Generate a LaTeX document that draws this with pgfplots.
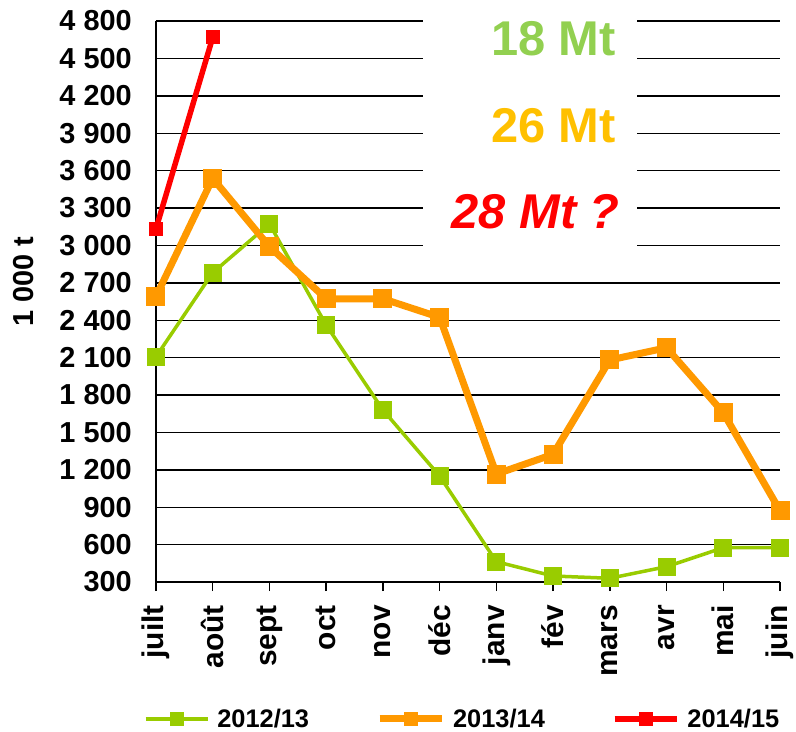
\documentclass[border=0pt]{standalone}
\usepackage{fontspec}
\setmainfont{Liberation Sans}
\usepackage{pgfplots}
\pgfplotsset{compat=1.18}
\definecolor{cgreen}{HTML}{99CC00}
\definecolor{corange}{HTML}{FF9900}
\definecolor{cred}{HTML}{FF0000}
\definecolor{tgreen}{HTML}{92D050}
\definecolor{tyellow}{HTML}{FFC000}
\begin{document}
\begin{tikzpicture}
\useasboundingbox (-156bp,-150bp) rectangle (640bp,582bp);
\begin{axis}[
  at={(0,0)}, anchor=south west,
  scale only axis, width=624bp, height=561bp,
  xmin=0, xmax=11, ymin=300, ymax=4800,
  xtick={0,...,11},
  xticklabels={juilt,août,sept,oct,nov,déc,janv,fév,mars,avr,mai,juin},
  ytick={300,600,...,4800},
  axis x line*=bottom, axis y line*=left,
  axis line style={black, line width=1.4bp, -},
  ymajorgrids, grid style={black, line width=1.4bp},
  tick align=outside,
  xtick style={black, line width=1.4bp},
  major tick length=9bp,
  ytick style={draw=none},
  xticklabel shift=14bp,
  x tick label style={rotate=90, anchor=east, inner sep=0pt, font=\fontsize{30}{32}\selectfont\bfseries},
  y tick label style={anchor=east, inner sep=0pt, font=\fontsize{29}{32}\selectfont\bfseries, xshift=-15bp},
  /pgf/number format/assume math mode=true,
  /pgf/number format/1000 sep={\ },
  clip=false,
  legend columns=3,
  legend style={draw=none, fill=none, at={(-0.0199,-0.2442)}, anchor=west, inner sep=0pt,
    font=\fontsize{25.5}{28}\selectfont\bfseries,
    nodes={inner sep=0pt, anchor=west},
    /tikz/every odd column/.append style={column sep=8bp},
    /tikz/every even column/.append style={column sep=67bp}},
  legend image code/.code={\draw[mark repeat=2, mark phase=2, mark size=6.5bp] plot coordinates {(0bp,0bp) (31bp,0bp) (62bp,0bp)};},
]
\fill[white] (axis cs:4.707,2947) rectangle (axis cs:8.479,4856);
\addplot[cgreen, line width=3.5bp, mark=square*, mark size=8.5bp, mark options={solid, line width=0pt, fill=cgreen, draw=cgreen}]
  coordinates {(0,2107) (1,2781) (2,3172) (3,2361) (4,1680) (5,1150) (6,463) (7,348) (8,330) (9,423) (10,575) (11,575)};
\addlegendentry{2012/13}
\addplot[corange, line width=7bp, mark=square*, mark size=9bp, mark options={solid, line width=0pt, fill=corange, draw=corange}]
  coordinates {(0,2590) (1,3538) (2,2990) (3,2572) (4,2572) (5,2423) (6,1166) (7,1324) (8,2081) (9,2179) (10,1658) (11,872)};
\addlegendentry{2013/14}
\addplot[cred, line width=5.5bp, mark=square*, mark size=6.5bp, mark options={solid, line width=0pt, fill=cred, draw=cred}]
  coordinates {(0,3134) (1,4669)};
\addlegendentry{2014/15}
\node[anchor=base east, inner sep=0pt, text=tgreen, font=\fontsize{49}{52}\selectfont\bfseries] at (axis cs:8.109,4527) {18 Mt};
\node[anchor=base east, inner sep=0pt, text=tyellow, font=\fontsize{49}{52}\selectfont\bfseries] at (axis cs:8.109,3829) {26 Mt};
\node[anchor=base east, inner sep=0pt, text=cred, font=\fontsize{49}{52}\selectfont\bfseries\itshape] at (axis cs:8.18,3139) {28 Mt ?};
\node[rotate=90, inner sep=0pt, font=\fontsize{29}{32}\selectfont\bfseries] at (rel axis cs:-0.2115,0.535) {1 000 t};
\end{axis}
\end{tikzpicture}
\end{document}
